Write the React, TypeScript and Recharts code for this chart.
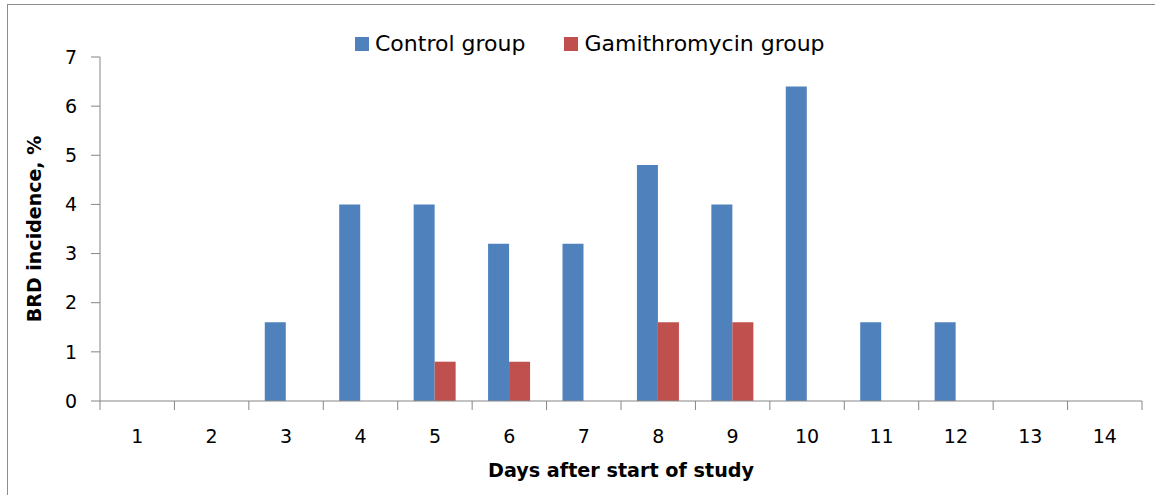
import React from "react";
import { BarChart, Bar, XAxis, YAxis, Legend } from "recharts";

const days = ["1", "2", "3", "4", "5", "6", "7", "8", "9", "10", "11", "12", "13", "14"];
const controlGroup = [0, 0, 1.6, 4, 4, 3.2, 3.2, 4.8, 4, 6.4, 1.6, 1.6, 0, 0];
const gamithromycinGroup = [0, 0, 0, 0, 0.8, 0.8, 0, 1.6, 1.6, 0, 0, 0, 0, 0];
const yTicks = [0, 1, 2, 3, 4, 5, 6, 7];

const data = days.map((d, i) => ({
  day: d,
  control: controlGroup[i],
  gami: gamithromycinGroup[i],
}));

const W = 1155;
const H = 495;
const MARGIN = { top: 57, right: 13, bottom: 0, left: 0 };
const Y_AXIS_W = 100;
const X_AXIS_H = 94;
const BAND = (W - MARGIN.left - MARGIN.right - Y_AXIS_W) / days.length;
const FONT = "'DejaVu Sans', sans-serif";
const AXIS_COLOR = "#868686";
const TICK_FONT = 19;

const XTick = (props: any) => {
  const { x, y, payload, index } = props;
  const isLast = index === days.length - 1;
  return (
    <g>
      <line x1={x - BAND / 2} x2={x - BAND / 2} y1={y} y2={y + 9} stroke={AXIS_COLOR} strokeWidth={1} />
      {isLast && (
        <line x1={x + BAND / 2} x2={x + BAND / 2} y1={y} y2={y + 9} stroke={AXIS_COLOR} strokeWidth={1} />
      )}
      <text x={x} y={y + 42} textAnchor="middle" fontFamily={FONT} fontSize={TICK_FONT} fill="#000">
        {payload.value}
      </text>
    </g>
  );
};

const LegendContent = (props: any) => {
  const { payload } = props;
  return (
    <div style={{ display: "flex", alignItems: "center", fontFamily: FONT, fontSize: 22, color: "#000", whiteSpace: "nowrap" }}>
      {payload.map((entry: any, i: number) => (
        <div key={i} style={{ display: "flex", alignItems: "center", marginRight: i === 0 ? 39 : 0 }}>
          <div style={{ width: 14, height: 14, background: entry.color, marginRight: 6 }} />
          <span style={{ lineHeight: "26px" }}>{entry.value}</span>
        </div>
      ))}
    </div>
  );
};

export default function App() {
  return (
    <div style={{ position: "absolute", left: 0, top: 0, width: W, height: H, overflow: "hidden", background: "#fff" }}>
      <div
        style={{
          position: "absolute",
          left: 7,
          top: 4,
          width: 2000,
          height: 2000,
          border: "1px solid #8c8c8c",
        }}
      />
      <div style={{ position: "absolute", left: 0, top: 0 }}>
        <BarChart
          width={W}
          height={H}
          data={data}
          margin={MARGIN}
          barCategoryGap="21.4%"
          barGap={0}
        >
          <XAxis
            dataKey="day"
            height={X_AXIS_H}
            axisLine={{ stroke: AXIS_COLOR, strokeWidth: 1 }}
            tickLine={false}
            tickSize={0}
            tickMargin={0}
            interval={0}
            tick={<XTick />}
            label={{
              value: "Days after start of study",
              position: "insideBottom",
              offset: 18,
              style: { fontFamily: FONT, fontSize: 19.2, fontWeight: "bold", fill: "#000" },
            }}
          />
          <YAxis
            width={Y_AXIS_W}
            domain={[0, 7]}
            ticks={yTicks}
            interval={0}
            axisLine={{ stroke: AXIS_COLOR, strokeWidth: 1 }}
            tickLine={{ stroke: AXIS_COLOR, strokeWidth: 1 }}
            tickSize={9}
            tickMargin={14}
            tick={{ fontFamily: FONT, fontSize: TICK_FONT, fill: "#000" }}
            label={{
              value: "BRD incidence, %",
              angle: -90,
              position: "center",
              dx: -16,
              style: { fontFamily: FONT, fontSize: 19, fontWeight: "bold", fill: "#000", textAnchor: "middle" },
            }}
          />
          <Legend
            verticalAlign="middle"
            align="center"
            layout="horizontal"
            content={<LegendContent />}
            wrapperStyle={{ top: 31, left: 355, width: "auto", height: "auto" }}
          />
          <Bar dataKey="control" name="Control group" fill="#4F81BD" isAnimationActive={false} />
          <Bar dataKey="gami" name="Gamithromycin group" fill="#C0504D" isAnimationActive={false} />
        </BarChart>
      </div>
    </div>
  );
}
